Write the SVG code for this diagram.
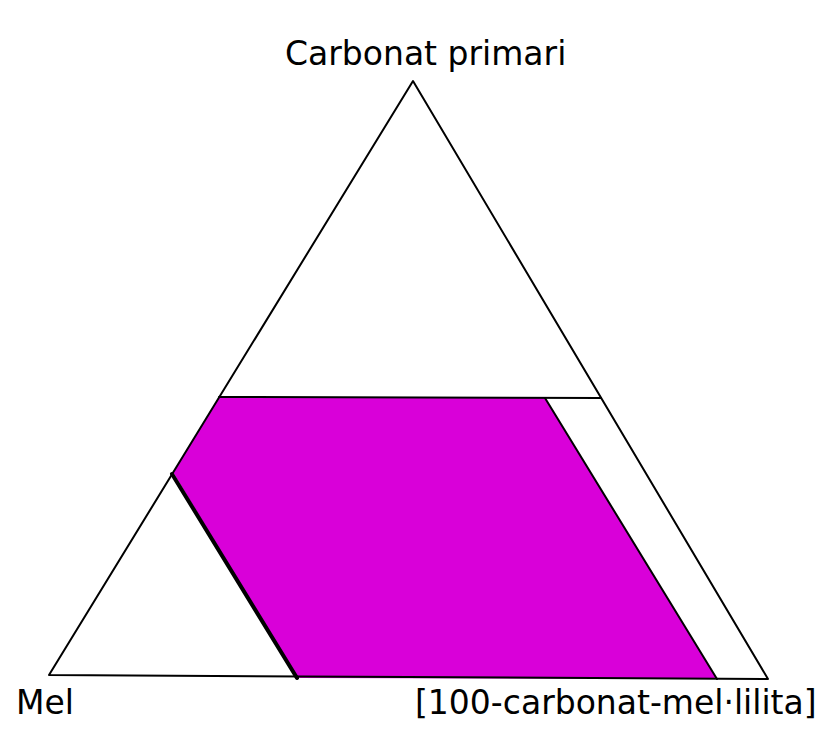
<svg xmlns="http://www.w3.org/2000/svg" width="840" height="755" viewBox="0 0 840 755">
<style>
.lbl{font-family:"DejaVu Sans","Liberation Sans",sans-serif;font-size:33px;fill:#000}
.ln{fill:none;stroke:#000;stroke-width:2;stroke-linejoin:round;stroke-linecap:round}
</style>
<rect width="840" height="755" fill="#fff"/>
<g id="field">
<polygon points="219,397 545,398 717,679 297,678 173,472" fill="#d900d9" stroke="none"/>
</g>
<g id="connectors">
<polygon class="ln" points="413,81 768,679 49,675"/>
<line class="ln" x1="219" y1="397" x2="601" y2="398"/>
<line class="ln" x1="545" y1="398" x2="717" y2="679"/>
<line x1="172" y1="474" x2="297" y2="678" stroke="#000" stroke-width="4" stroke-linecap="round"/>
</g>
<g id="apex-label"><text class="lbl" x="285" y="65">Carbonat primari</text></g>
<g id="left-label"><text class="lbl" x="16" y="714">Mel</text></g>
<g id="right-label"><text class="lbl" x="415" y="714">[100-carbonat-mel·lilita]</text></g>
</svg>
